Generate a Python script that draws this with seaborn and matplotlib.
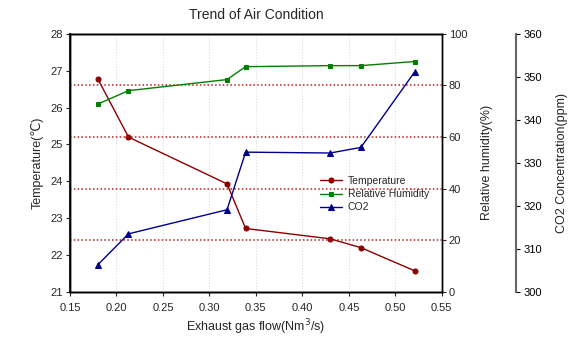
import matplotlib
matplotlib.use("Agg")
import matplotlib.pyplot as plt
import seaborn as sns
import pandas as pd

# Exhaust gas flow (Nm3/s) and measured air conditions
flow = [0.180, 0.213, 0.319, 0.339, 0.430, 0.463, 0.521]
temperature = [26.78, 25.20, 23.93, 22.72, 22.44, 22.20, 21.57]
humidity = [72.8, 78.0, 82.3, 87.3, 87.7, 87.7, 89.3]
co2 = [306.3, 313.5, 319.1, 332.5, 332.3, 333.6, 351.2]

x_ticks = [0.15, 0.20, 0.25, 0.30, 0.35, 0.40, 0.45, 0.50, 0.55]
temp_ticks = [21, 22, 23, 24, 25, 26, 27, 28]
rh_ticks = [0, 20, 40, 60, 80, 100]
co2_ticks = [300, 310, 320, 330, 340, 350, 360]

df = pd.DataFrame({"flow": flow, "Temperature": temperature,
                   "Relative Humidity": humidity, "CO2": co2})

sns.set_theme(style="white")
plt.rcParams["font.family"] = ["Liberation Sans", "DejaVu Sans"]

fig = plt.figure(figsize=(5.73, 3.39), dpi=100)
ax = fig.add_axes([0.122, 0.139, 0.649, 0.761])
ax2 = ax.twinx()
ax3 = ax.twinx()
ax3.spines["right"].set_position(("axes", 1.2))

c_t, c_h, c_c = "#8B0000", "#008000", "#00008B"

sns.lineplot(data=df, x="flow", y="Temperature", ax=ax, color=c_t, marker="o",
             markersize=3.6, markeredgecolor=c_t, linewidth=1, label="Temperature",
             legend=False)
sns.lineplot(data=df, x="flow", y="Relative Humidity", ax=ax2, color=c_h, marker="s",
             markersize=3.3, markeredgecolor=c_h, linewidth=1, label="Relative Humidity",
             legend=False)
sns.lineplot(data=df, x="flow", y="CO2", ax=ax3, color=c_c, marker="^",
             markersize=3.8, markeredgecolor=c_c, linewidth=1, label="CO2",
             legend=False)

ax.set_xlim(0.15, 0.55)
ax.set_ylim(21, 28)
ax2.set_ylim(0, 100)
ax3.set_ylim(300, 360)
ax.set_xticks(x_ticks)
ax.set_xticklabels([f"{v:.2f}" for v in x_ticks])
ax.set_yticks(temp_ticks)
ax2.set_yticks(rh_ticks)
ax3.set_yticks(co2_ticks)

# grid: grey dotted verticals, red dotted horizontals at humidity ticks
for xv in x_ticks[1:-1]:
    ax.axvline(xv, color="#d5d5d5", linestyle=(0, (1, 2)), linewidth=0.7, zorder=0)
for yv in rh_ticks[1:-1]:
    ax2.axhline(yv, color="#b22222", linestyle=(0, (1, 1.5)), linewidth=1.1, zorder=0)

fs = 8
for a in (ax, ax2, ax3):
    a.tick_params(labelsize=fs, length=3, width=0.8, direction="out", pad=2)
    for s in a.spines.values():
        s.set_linewidth(1)
        s.set_color("black")
ax.tick_params(axis="both", left=True, bottom=True)
ax.tick_params(axis="x", pad=5)
ax2.tick_params(axis="y", right=True)
ax3.tick_params(axis="y", right=True, colors="black")
ax3.spines["right"].set_color("#666666")
ax3.spines["right"].set_linewidth(1.5)
ax.spines["left"].set_color("#333333")
ax.spines["left"].set_linewidth(1.5)

ax.set_xlabel("Exhaust gas flow(Nm$^3$/s)", fontsize=9, labelpad=3)
ax.set_ylabel("Temperature(℃)", fontsize=9, labelpad=5)
ax2.set_ylabel("Relative humidity(%)", fontsize=9, labelpad=10)
ax3.set_ylabel("CO2 Concentration(ppm)", fontsize=9, labelpad=10)
ax.set_title("Trend of Air Condition", fontsize=10, pad=11)

handles = []
labels = []
for a in (ax, ax2, ax3):
    h, l = a.get_legend_handles_labels()
    handles += h
    labels += l
ax.legend(handles, labels, loc="upper left", bbox_to_anchor=(0.66, 0.465),
          frameon=False, fontsize=7.5, handlelength=2.2, labelspacing=0.3,
          borderaxespad=0, handletextpad=0.5)

fig.savefig("out.png", dpi=100)
